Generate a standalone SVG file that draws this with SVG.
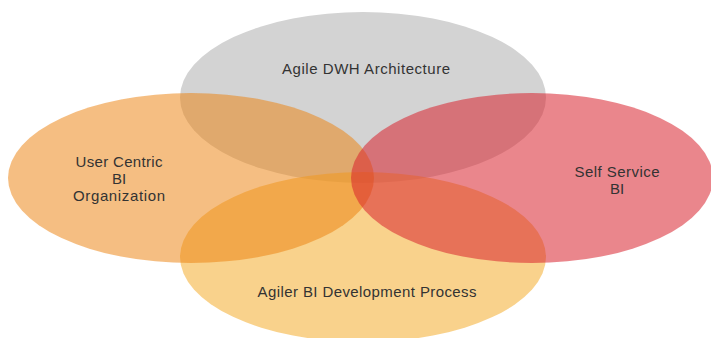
<svg xmlns="http://www.w3.org/2000/svg" width="711" height="338" viewBox="0 0 711 338">
  <style>
    .lbl { font-family: "Liberation Sans", Arial, sans-serif; font-size: 15px; fill: #333333; text-anchor: middle; }
  </style>
  <rect width="711" height="338" fill="#ffffff"/>
  <!-- four overlapping translucent ellipses; the bottom one sits under the side ones -->
  <g id="dwh">
    <ellipse cx="363" cy="97.5" rx="183" ry="85.5" fill="#d3d3d3"/>
  </g>
  <g id="process">
    <ellipse cx="363" cy="257" rx="183" ry="85" fill="rgb(245,180,63)" fill-opacity="0.6"/>
  </g>
  <g id="organization">
    <ellipse cx="191" cy="178" rx="183" ry="85" fill="rgb(236,130,15)" fill-opacity="0.52"/>
  </g>
  <g id="selfservice">
    <ellipse cx="532" cy="178" rx="181" ry="85" fill="rgb(217,35,46)" fill-opacity="0.55"/>
  </g>
  <!-- labels drawn last so they sit above every fill -->
  <g id="labels">
    <text class="lbl" x="366" y="74" textLength="168" lengthAdjust="spacing">Agile DWH Architecture</text>
    <text class="lbl" x="119" y="167" textLength="87" lengthAdjust="spacing">User Centric</text>
    <text class="lbl" x="119" y="184">BI</text>
    <text class="lbl" x="119" y="201" textLength="92" lengthAdjust="spacing">Organization</text>
    <text class="lbl" x="617" y="177" textLength="85" lengthAdjust="spacing">Self Service</text>
    <text class="lbl" x="617" y="194">BI</text>
    <text class="lbl" x="367" y="297" textLength="219" lengthAdjust="spacing">Agiler BI Development Process</text>
  </g>
  <g id="connectors"/>
</svg>
